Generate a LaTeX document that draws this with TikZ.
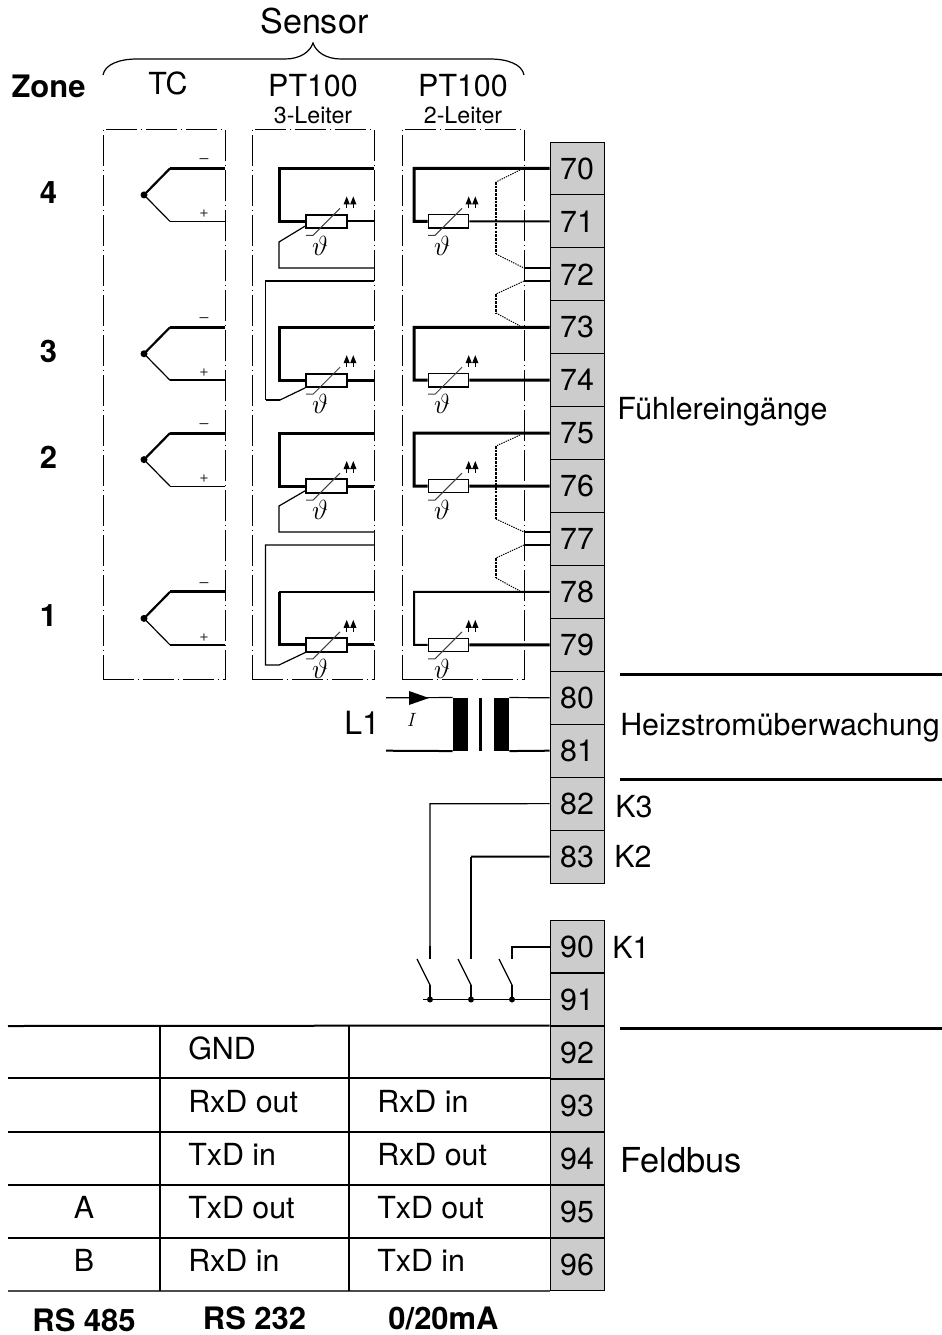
\documentclass[tikz,border=0pt]{standalone}
\usepackage{fontspec}
\setmainfont{TeX Gyre Heros}
\newcommand{\fsz}[1]{\fontsize{#1}{#1}\selectfont}
\tikzset{
  px/.style={line width=#1*0.75pt},
  wire/.style={px=1.2,line join=miter},
  mid/.style={px=2,line join=miter},
  heavy/.style={px=3,line join=miter},
  term/.style={draw=black,px=1,fill=black!20,minimum width=40.5pt,minimum height=39.7pt,inner sep=0pt,font=\fsz{22.8}},
  sensorbox/.style={draw,px=1,dash pattern=on 23pt off 3pt on 1pt off 3pt,minimum width=#1*0.75pt,minimum height=412.5pt,inner sep=0pt},
  res/.style={draw,fill=white,px=2,minimum width=30.5pt,minimum height=10pt,inner sep=0pt},
  res2/.style={draw,fill=white,px=1.3,minimum width=30.5pt,minimum height=10pt,inner sep=0pt},
  lab/.style={anchor=base west,inner sep=0pt,font=\fsz{22.8}},
  labc/.style={anchor=base,inner sep=0pt,font=\fsz{22.8}},
  bold/.style={anchor=base,inner sep=0pt,font=\fsz{23.2}\bfseries},
  pm/.style={inner sep=0pt,font=\fsz{12},text=black!80},
  theta/.style={inner sep=0pt,font=\fsz{20}},
  junction/.style={circle,fill=black,inner sep=0pt,minimum size=#1*0.75pt},
  jumper/.style={px=1,dash pattern=on 1pt off 0.8pt},
  jumperv/.style={px=2.4,dash pattern=on 2pt off 0.8pt},
  core/.style={fill=black,draw=none,inner sep=0pt,minimum height=39.75pt},
}
\begin{document}
\begin{tikzpicture}[x=0.75pt,y=-0.75pt]
\useasboundingbox (0,0) rectangle (942,1335);
% terminal strip
\foreach \n in {70,...,83}
  \node[term] (t\n) at (577,{142+52.93*(\n-70+0.5)}) {\n};
\foreach \n in {90,...,96}
  \node[term] (t\n) at (577,{920+53*(\n-90+0.5)}) {\n};
\coordinate (t72a) at (550,268);
\coordinate (t72b) at (550,281);
\coordinate (t77a) at (550,532);
\coordinate (t77b) at (550,545);
% sensor boxes
\node[sensorbox=122] (boxTC) at (164,404) {};
\node[sensorbox=122] (boxDrei) at (313,404) {};
\node[sensorbox=122] (boxZwei) at (463,404) {};
% heading
\node[lab,font=\fsz{25.6}] (sensor) at (260,33) {Sensor};
\draw[px=1.2] (103,75) .. controls (105,64) and (120,59) .. (137,59) -- (285,59) .. controls (300,59) and (310,52) .. (313,43) .. controls (316,52) and (326,59) .. (341,59) -- (490,59) .. controls (507,59) and (522,64) .. (524,75);
\node[bold] (zone) at (48.5,97) {Zone};
\node[labc] (tc) at (168,94) {TC};
\node[labc] (pta) at (313,96) {PT100};
\node[labc] (ptb) at (463,96) {PT100};
\node[labc,font=\fsz{17.4}] (leia) at (313,123) {3-Leiter};
\node[labc,font=\fsz{17.4}] (leib) at (463,123) {2-Leiter};
\node[bold] (z4) at (48.5,203) {4};
\node[bold] (z3) at (48.5,362.5) {3};
\node[bold] (z2) at (48.5,468) {2};
\node[bold] (z1) at (48.5,626.5) {1};
% zones: name / terminal upper / terminal lower / upper y / lower y / style of lower TC wire
\foreach \z/\ta/\tb/\ya/\yb/\tcw in {4/70/71/168.46/221.4/1.3,3/73/74/327.3/380.2/1.8,2/75/76/433.1/486.1/1.2,1/78/79/591.9/644.9/2}{
  % thermocouple
  \node[junction=7] (tcj\z) at (144,{(\ya+\yb)/2}) {};
  \draw[px=2.2] (tcj\z.center) -- (170,\ya);
  \draw[heavy] (170,\ya) -- (225,\ya);
  \draw[px=1.2] (tcj\z.center) -- (170,\yb);
  \draw[px=\tcw] (170,\yb) -- (225,\yb);
  \node[pm] (tm\z) at (204,\ya-7) {–};
  \node[pm] (tp\z) at (204,\yb-7.5) {+};
  % three-wire and two-wire resistors
  \node[res] (ra\z) at (326.5,\yb) {};
  \node[res2] (rb\z) at (448.5,\yb) {};
  \foreach \r/\xx in {ra/326.5,rb/448.5}{
    \draw[px=1,black!75] (\xx+13.5,\yb-13) -- (\xx-13.5,\yb+14) -- (\xx-20.5,\yb+14);
    \draw[px=1.1] (\xx+20.2,\yb-13) -- (\xx+20.2,\yb-19);
    \draw[px=1.1] (\xx+26.8,\yb-13) -- (\xx+26.8,\yb-19);
    \fill (\xx+17,\yb-17) -- (\xx+23.4,\yb-17) -- (\xx+20.2,\yb-25) -- cycle;
    \fill (\xx+23.6,\yb-17) -- (\xx+30,\yb-17) -- (\xx+26.8,\yb-25) -- cycle;
    \node[theta] (th\r\z) at (\xx-6.5,\yb+24) {$\vartheta$};
  }
}
% three-wire loops
\draw[heavy] (374,168.46) -- (279,168.46) -- (279,221.4) -- (ra4.west);
\draw[mid] (ra4.east) -- (374,221.4);
\draw[wire] (ra4.south west) ++(0,-3) -- (279,242) -- (279,268) -- (374,268);
\draw[heavy] (374,327.3) -- (279,327.3) -- (279,380.2) -- (ra3.west);
\draw[heavy] (ra3.east) -- (374,380.2);
\draw[wire] (374,281) -- (265.5,281) -- (265.5,400);
\draw[mid] (265.5,400) -- (280,400);
\draw[wire] (280,400) -- (ra3.south west);
\draw[heavy] (374,433.1) -- (279,433.1) -- (279,486.1) -- (ra2.west);
\draw[heavy] (ra2.east) -- (374,486.1);
\draw[wire] (ra2.south west) ++(0,-3) -- (279,506) -- (279,532) -- (374,532);
\draw[mid] (374,591.9) -- (279,591.9);
\draw[heavy] (279,591.9) -- (279,644.9) -- (ra1.west);
\draw[heavy] (ra1.east) -- (374,644.9);
\draw[wire] (374,545) -- (265.5,545) -- (265.5,665) -- (279,665) -- (ra1.south west);
% two-wire loops
\draw[heavy] (t70.west) -- (414,168.46) -- (414,221.4) -- (rb4.west);
\draw[mid] (rb4.east) -- (t71.west);
\draw[heavy] (t73.west) -- (414,327.3) -- (414,380.2) -- (rb3.west);
\draw[heavy] (rb3.east) -- (t74.west);
\draw[heavy] (t75.west) -- (414,433.1) -- (414,486.1) -- (rb2.west);
\draw[heavy] (rb2.east) -- (t76.west);
\draw[mid] (t78.west) -- (414,591.9) -- (414,644.9) -- (rb1.west);
\draw[heavy] (rb1.east) -- (t79.west);
% jumpers
\coordinate (ja) at (524,268);
\coordinate (jb) at (524,281);
\coordinate (jc) at (524,532);
\coordinate (jd) at (524,545);
\draw[wire] (ja) -- (t72a);
\draw[wire] (jb) -- (t72b);
\draw[wire] (jc) -- (t77a);
\draw[wire] (jd) -- (t77b);
\draw[jumper] (520,170) -- (496,182);
\draw[jumperv] (496,182) -- (496,254);
\draw[jumper] (496,254) -- (ja);
\draw[jumper] (jb) -- (496,294);
\draw[jumperv] (496,294) -- (496,313);
\draw[jumper] (496,313) -- (520,326);
\draw[jumper] (520,435) -- (496,446);
\draw[jumperv] (496,446) -- (496,519);
\draw[jumper] (496,519) -- (jc);
\draw[jumper] (jd) -- (496,558);
\draw[jumperv] (496,558) -- (496,578);
\draw[jumper] (496,578) -- (520,591);
% current transformer
\node[lab,font=\fsz{24}] (lone) at (344,734) {L1};
\coordinate (lt) at (386,697.8);
\coordinate (lb) at (386,750.7);
\node[core,minimum width=11.25pt] (corea) at (460.5,724.3) {};
\node[core,minimum width=2.25pt] (coreb) at (480.5,724.3) {};
\node[core,minimum width=11.25pt] (corec) at (501.5,724.3) {};
\draw[wire] (lt) -- (corea.north west);
\draw[wire] (corec.north east) -- (t80.west);
\draw[mid] (lb) -- (corea.south west);
\draw[mid] (corec.south east) -- (t81.west);
\fill (409,691) -- (409,705) -- (429,698) -- cycle;
\node[inner sep=0pt,font=\fsz{15}] (icur) at (412,720) {$I$};
% contacts
\node[junction=6] (ja3) at (430,999.5) {};
\node[junction=6] (ja2) at (471,999.5) {};
\node[junction=6] (ja1) at (512,999.5) {};
\coordinate (busl) at (423,999.5);
\draw[wire] (busl) -- (t91.west);
\coordinate (ca) at (430,959);
\coordinate (cb) at (471,959);
\coordinate (cc) at (512,959);
\draw[wire] (t82.west) -- (430,803.7) -- (430,946);
\draw[mid] (430,946) -- (ca);
\draw[mid] (t83.west) -- (471,856.6);
\draw[px=1.6] (471,856.6) -- (471,946);
\draw[mid] (471,946) -- (cb);
\draw[mid] (t90.west) -- (512,946.5) -- (cc);
\foreach \j/\xx in {ja3/430,ja2/471,ja1/512}{
  \draw[wire] (\xx-13,959) -- (\xx,985);
  \draw[mid] (\xx,985) -- (\j.center);
}
% right-hand labels
\node[lab] (fuehl) at (617,419) {Fühlereingänge};
\node[lab] (heiz) at (620,735) {Heizstromüberwachung};
\node[lab] (kthree) at (615,817) {K3};
\node[lab] (ktwo) at (614,867) {K2};
\node[lab] (kone) at (612,958) {K1};
\node[lab,font=\fsz{25.8}] (feld) at (620,1172) {Feldbus};
\draw[heavy] (620,674) -- (942,674);
\draw[heavy] (620,779) -- (942,779);
\draw[heavy] (620,1028) -- (942,1028);
% table
\draw[mid] (8,1026) -- (t92.north west);
\draw[wire] (8,1078) -- (550,1078);
\draw[wire] (8,1132) -- (550,1132);
\draw[mid] (8,1185) -- (550,1185);
\draw[mid] (8,1238) -- (550,1238);
\draw[px=1.6,black!70] (8,1291) -- (550,1291);
\draw[px=1.1] (160,1026) -- (160,1291);
\draw[px=1.1] (349,1026) -- (349,1291);
\node[lab] (c1) at (188,1059) {GND};
\node[lab] (c2) at (188,1112) {RxD out};
\node[lab] (c3) at (377,1112) {RxD in};
\node[lab] (c4) at (188,1165) {TxD in};
\node[lab] (c5) at (377,1165) {RxD out};
\node[labc] (c6) at (84,1218) {A};
\node[lab] (c7) at (188,1218) {TxD out};
\node[lab] (c8) at (377,1218) {TxD out};
\node[labc] (c9) at (84,1271) {B};
\node[lab] (c10) at (188,1271) {RxD in};
\node[lab] (c11) at (377,1271) {TxD in};
\node[bold] (rsa) at (84,1331) {RS 485};
\node[bold] (rsb) at (254.5,1329) {RS 232};
\node[bold] (rsc) at (443.5,1329) {0/20mA};
\end{tikzpicture}
\end{document}
